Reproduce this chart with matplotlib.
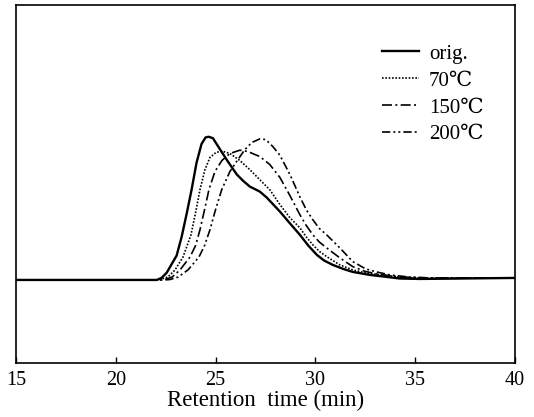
import numpy as np
import matplotlib
matplotlib.use("Agg")
import matplotlib.pyplot as plt

plt.rcParams['font.family'] = ['Liberation Serif', 'DejaVu Serif', 'Noto Sans CJK SC']

# retention time (min) and detector response (arbitrary, orig peak = 1)
t_orig = [15.0, 21.7, 22.06, 22.3, 22.55, 22.8, 23.05, 23.3, 23.55, 23.8, 24.05, 24.3,
          24.5, 24.65, 24.87, 25.07, 25.35, 25.62, 26.07, 26.4, 26.72, 27.22, 27.57,
          28.23, 28.7, 29.23, 29.65, 30.08, 30.45, 30.88, 31.4, 31.88, 32.74, 33.59,
          34.24, 35.24, 40.0]
i_orig = [0.0, 0.0, 0.0, 0.015, 0.05, 0.11, 0.17, 0.3, 0.46, 0.63, 0.82, 0.95,
          0.995, 1.0, 0.99, 0.946, 0.885, 0.827, 0.736, 0.69, 0.652, 0.617, 0.575,
          0.477, 0.4, 0.315, 0.24, 0.175, 0.135, 0.105, 0.077, 0.056, 0.035, 0.021,
          0.01, 0.007, 0.014]

t_70 = [15.0, 22.0, 22.21, 22.61, 22.97, 23.37, 23.77, 24.0, 24.22, 24.47, 24.72, 25.02,
        25.32, 25.72, 26.22, 26.72, 27.22, 27.72, 28.23, 28.73, 29.23, 29.55, 29.88,
        30.2, 30.57, 31.23, 31.88, 32.5, 33.07, 34.24, 35.5, 40.0]
i_70 = [0.0, 0.0, 0.003, 0.02, 0.07, 0.16, 0.315, 0.47, 0.63, 0.77, 0.855, 0.89,
        0.9, 0.883, 0.834, 0.77, 0.7, 0.63, 0.526, 0.434, 0.364, 0.3, 0.245,
        0.2, 0.163, 0.105, 0.07, 0.05, 0.039, 0.02, 0.01, 0.014]

t_150 = [15.0, 22.2, 22.46, 22.82, 23.22, 23.72, 24.0, 24.22, 24.45, 24.67, 24.97, 25.32,
         25.72, 26.22, 26.62, 26.97, 27.22, 27.72, 28.23, 28.73, 29.23, 29.55, 29.88,
         30.2, 30.57, 31.23, 31.88, 32.5, 33.07, 34.24, 35.74, 40.0]
i_150 = [0.0, 0.0, 0.003, 0.02, 0.07, 0.16, 0.24, 0.35, 0.49, 0.63, 0.757, 0.834,
         0.883, 0.906, 0.897, 0.876, 0.862, 0.806, 0.715, 0.589, 0.455, 0.38, 0.315,
         0.265, 0.224, 0.154, 0.093, 0.06, 0.042, 0.02, 0.014, 0.014]

t_200 = [15.0, 22.4, 22.72, 23.12, 23.62, 24.17, 24.45, 24.72, 25.0, 25.31, 25.72, 26.12,
         26.47, 26.82, 27.22, 27.52, 27.87, 28.23, 28.73, 29.23, 29.55, 29.88, 30.2,
         30.57, 31.23, 31.88, 32.53, 33.07, 33.74, 34.74, 35.74, 40.0]
i_200 = [0.0, 0.0, 0.003, 0.02, 0.07, 0.16, 0.24, 0.35, 0.49, 0.63, 0.757, 0.84,
         0.91, 0.96, 0.985, 0.98, 0.932, 0.87, 0.736, 0.58, 0.49, 0.42, 0.36,
         0.315, 0.224, 0.128, 0.077, 0.056, 0.035, 0.02, 0.014, 0.014]

labels = ['orig.', '70℃', '150℃', '200℃']
x_ticks = [15, 20, 25, 30, 35, 40]

fig = plt.figure(figsize=(5.34, 4.17), dpi=100)
ax = fig.add_axes([0.030, 0.1295, 0.934, 0.8585])

ax.plot(t_orig, i_orig, color='black', lw=1.7, ls='-', label=labels[0])
ax.plot(t_70, i_70, color='black', lw=1.2, ls=(0, (1, 1)), label=labels[1])
ax.plot(t_150, i_150, color='black', lw=1.2, ls=(0, (6, 2, 1.2, 2)), label=labels[2])
ax.plot(t_200, i_200, color='black', lw=1.2, ls=(0, (5, 1.8, 1.2, 1.8, 1.2, 1.8)), label=labels[3])

ax.set_xlim(15, 40)
ax.set_ylim(-0.58, 1.92)
ax.set_yticks([])
ax.set_xticks(x_ticks)
ax.tick_params(axis='x', direction='in', length=4, width=1, labelsize=14.5, pad=6)
for s in ax.spines.values():
    s.set_linewidth(1.2)

ax.set_xlabel('Retention  time (min)', fontsize=16.5, labelpad=0)

leg = ax.legend(loc='upper right', bbox_to_anchor=(0.975, 0.943), frameon=False,
                fontsize=15, handlelength=1.75, handletextpad=0.5, labelspacing=0.35)

fig.savefig('out.png', dpi=100)
